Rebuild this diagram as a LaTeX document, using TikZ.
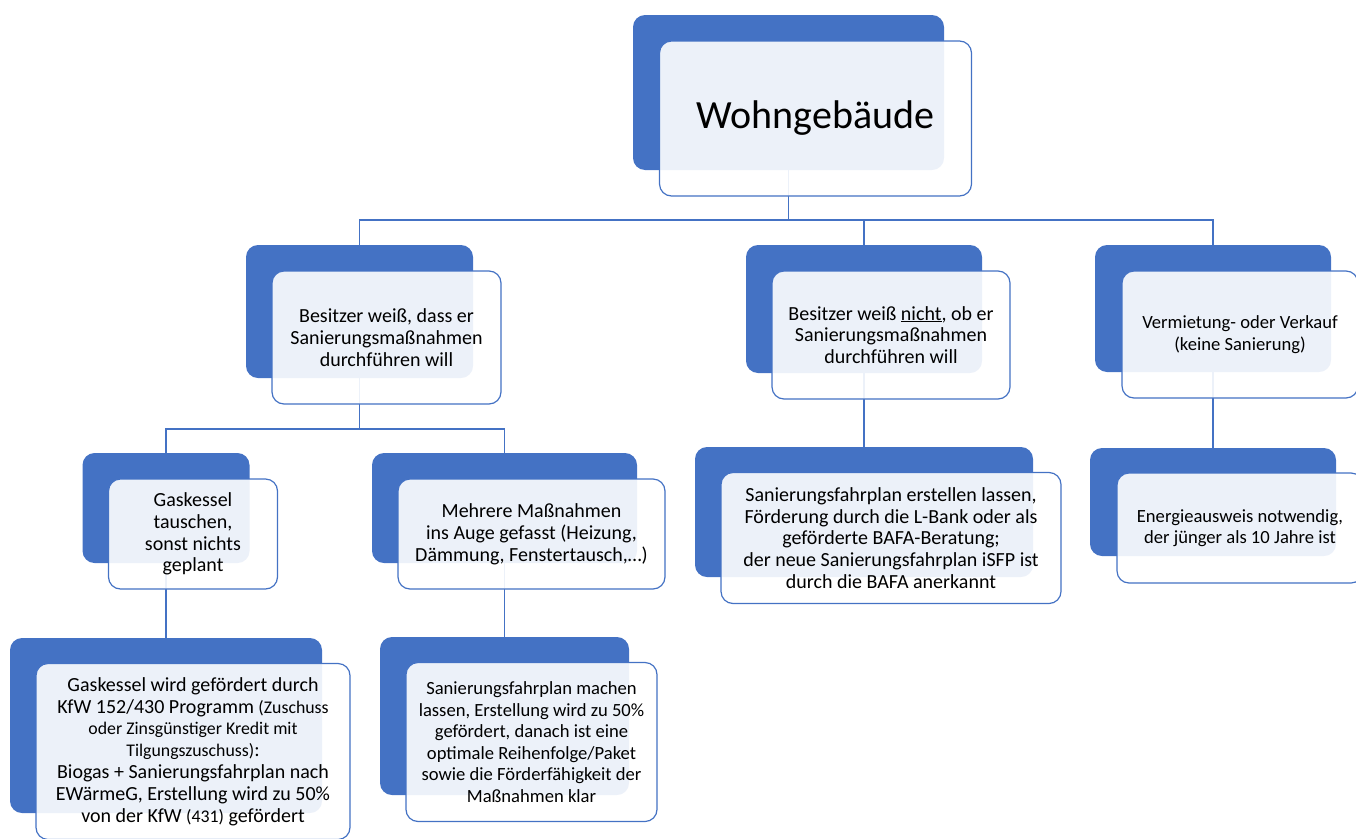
\documentclass[tikz,border=0pt]{standalone}
\usepackage{fontspec}
\setmainfont{Carlito}
\definecolor{sablue}{HTML}{4472C4}
\newcommand\smtxt[1]{{\fontsize{17.8pt}{21.8pt}\selectfont #1}}
\begin{document}
\begin{tikzpicture}[x=1pt,y=-1pt,
  back/.style={fill=sablue, draw=none, rounded corners=12pt, inner sep=0pt},
  front/.style={fill=white, fill opacity=0.9, text opacity=1, draw=sablue, line width=1.2pt,
                rounded corners=12pt, align=center, inner sep=0pt, text=black},
  boxsize/.style 2 args={minimum width=#1pt, minimum height=#2pt},
  conn/.style={draw=sablue, line width=1.3pt},
  tbig/.style={font=\fontsize{40pt}{48pt}\selectfont},
  tmain/.style={font=\fontsize{20pt}{21.8pt}\selectfont},
  tsmall/.style={font=\fontsize{18.6pt}{21.5pt}\selectfont},
  off/.style={shift={(27,26)}}
]
\useasboundingbox (0,0) rectangle (1356,838);
\clip (0,0) rectangle (1356,838);

% back (dark blue) boxes
\node[back, boxsize={311}{155}] (rootB) at (788.5,92.5) {};
\node[back, boxsize={227}{133}] (l1aB) at (359.5,311.5) {};
\node[back, boxsize={236}{128}] (l1bB) at (864,309) {};
\node[back, boxsize={236}{127}] (l1cB) at (1213,308.5) {};
\node[back, boxsize={167}{110}] (l2aB) at (166,508) {};
\node[back, boxsize={265}{110}] (l2bB) at (504.5,508) {};
\node[back, boxsize={338}{130}] (l2cB) at (864,512) {};
\node[back, boxsize={246}{108}] (l2dB) at (1213,502) {};
\node[back, boxsize={312}{175}] (l3aB) at (166,725.5) {};
\node[back, boxsize={249}{158}] (l3bB) at (504.5,716) {};

% connectors
\coordinate (bus0) at (0,220);
\coordinate (bus1) at (0,429);
\draw[conn] (rootB.south) -- (rootB.south |- bus0);
\draw[conn] (l1aB.north) -- (l1aB.north |- bus0) -- (l1cB.north |- bus0) -- (l1cB.north);
\draw[conn] (l1bB.north |- bus0) -- (l1bB.north);
\draw[conn] (l1aB.south) -- (l1aB.south |- bus1);
\draw[conn] (l2aB.north) -- (l2aB.north |- bus1) -- (l2bB.north |- bus1) -- (l2bB.north);
\draw[conn] (l2aB.south) -- (l3aB.north);
\draw[conn] (l2bB.south) -- (l3bB.north);
\draw[conn] (l1bB.south) -- (l2cB.north);
\draw[conn] (l1cB.south) -- (l2dB.north);

% front boxes
\node[front, tbig, boxsize={312}{155}] (root) at ([off]rootB.center) {Wohngebäude};
\node[front, tmain, boxsize={229}{133}] (l1a) at ([off]l1aB.center)
  {Besitzer weiß, dass er\\Sanierungsmaßnahmen\\durchführen will};
\node[front, tmain, boxsize={238}{128}] (l1b) at ([off]l1bB.center)
  {Besitzer weiß \underline{nicht}, ob er\\Sanierungsmaßnahmen\\durchführen will};
\node[front, tsmall, boxsize={236}{127}] (l1c) at ([off]l1cB.center)
  {Vermietung- oder Verkauf\\(keine Sanierung)};
\node[front, tmain, boxsize={169}{110}] (l2a) at ([off]l2aB.center)
  {Gaskessel\\tauschen,\\sonst nichts\\geplant};
\node[front, tmain, boxsize={267}{110}] (l2b) at ([off]l2bB.center)
  {Mehrere Maßnahmen\\ins Auge gefasst (Heizung,\\Dämmung, Fenstertausch,…)};
\node[front, tmain, boxsize={340}{131}] (l2c) at ([off]l2cB.center)
  {Sanierungsfahrplan erstellen lassen,\\Förderung durch die L-Bank oder als\\geförderte BAFA-Beratung;\\der neue Sanierungsfahrplan iSFP ist\\durch die BAFA anerkannt};
\node[front, tsmall, boxsize={246}{110}] (l2d) at ([off]l2dB.center)
  {Energieausweis notwendig,\\der jünger als 10 Jahre ist};
\node[front, tmain, boxsize={314}{176}] (l3a) at ([off]l3aB.center)
  {Gaskessel wird gefördert durch\\KfW 152/430 Programm \smtxt{(Zuschuss}\\\smtxt{oder Zinsgünstiger Kredit mit}\\\smtxt{Tilgungszuschuss)}:\\Biogas + Sanierungsfahrplan nach\\EWärmeG, Erstellung wird zu 50\%\\von der KfW \smtxt{(431)} gefördert};
\node[front, tsmall, boxsize={251}{159}] (l3b) at ([off]l3bB.center)
  {Sanierungsfahrplan machen\\lassen, Erstellung wird zu 50\%\\gefördert, danach ist eine\\optimale Reihenfolge/Paket\\sowie die Förderfähigkeit der\\Maßnahmen klar};
\end{tikzpicture}
\end{document}
